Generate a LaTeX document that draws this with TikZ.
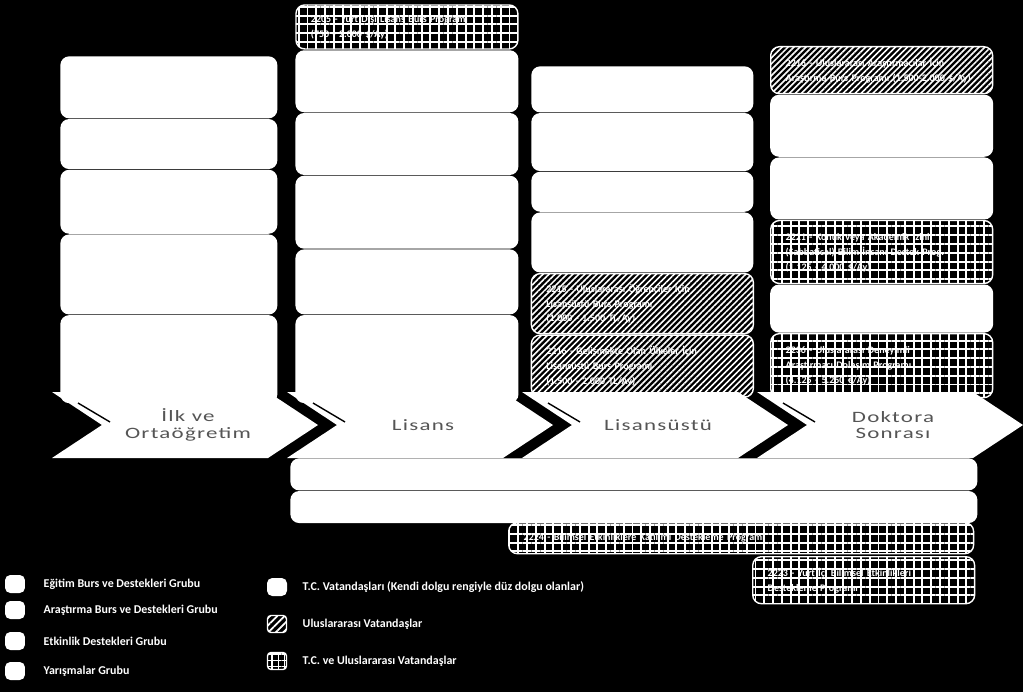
\documentclass[tikz,border=0pt]{standalone}
\usepackage{fontspec}
\setmainfont{Carlito}
\newfontfamily\stagefont{Carlito}[FakeStretch=1.45, LetterSpace=8]
\usetikzlibrary{positioning, patterns.meta}
\definecolor{stagegray}{RGB}{85,85,85}
\newcommand\boxfont{\bfseries\fontsize{5.7}{8.5}\selectfont}
\newcommand\legfont{\bfseries\fontsize{6.8}{8}\selectfont}

\begin{document}
\begin{tikzpicture}[
  x=0.02cm, y=-0.02cm,
  bw/.style={minimum width=#1*0.02cm},
  bh/.style={minimum height=#1*0.02cm},
  wbox/.style={rectangle, rounded corners=5pt, fill=white, inner sep=0pt},
  tbox/.style={rectangle, rounded corners=5pt, draw=white, line width=0.8pt,
    inner xsep=0.3cm, inner ysep=0pt, text width=3.84cm, align=left, text=white, font=\boxfont},
  hbox/.style={tbox, pattern={Lines[angle=45, distance=2.4pt, line width=0.9pt]}, pattern color=white},
  gbox/.style={tbox, pattern={Hatch[distance=5pt, line width=1.1pt]}, pattern color=white},
  stage/.style={align=center, text=stagegray, font=\stagefont\fontsize{9}{9.5}\selectfont},
  legsq/.style={rectangle, rounded corners=3pt, fill=white, minimum width=0.4cm, minimum height=0.36cm, inner sep=0pt},
  legicon/.style={rectangle, rounded corners=2pt, draw=white, line width=0.8pt, minimum width=0.38cm, minimum height=0.34cm, inner sep=0pt},
  legtxt/.style={inner sep=0pt, text=white, font=\legfont}
]
% Background
\useasboundingbox (0,0) rectangle (1023,692);
\fill[black] (0,0) rectangle (1023,692);

% Ilk ve Ortaogretim column
\node[wbox, bw=217, bh=62, anchor=north west] (c1a) at (60,56) {};
\node[wbox, bw=217, bh=50, below=0pt of c1a] (c1b) {};
\node[wbox, bw=217, bh=64, below=0pt of c1b] (c1c) {};
\node[wbox, bw=217, bh=80, below=0pt of c1c] (c1d) {};
\node[wbox, bw=217, bh=88, below=0pt of c1d] (c1e) {};

% Lisans column
\node[gbox, bh=44, anchor=north west] (c2a) at (295,4) {2205 - Yurt Dışı Lisans Burs Programı\\(750 - 2.000 \$/Ay)};
\node[wbox, bw=223, bh=62, below=0pt of c2a] (c2b) {};
\node[wbox, bw=223, bh=62, below=0pt of c2b] (c2c) {};
\node[wbox, bw=223, bh=73, below=0pt of c2c] (c2d) {};
\node[wbox, bw=223, bh=65, below=0pt of c2d] (c2e) {};
\node[wbox, bw=223, bh=88, below=0pt of c2e] (c2f) {};

% Lisansustu column
\node[wbox, bw=222, bh=46, anchor=north west] (c3a) at (531,66) {};
\node[wbox, bw=222, bh=58, below=0pt of c3a] (c3b) {};
\node[wbox, bw=222, bh=40, below=0pt of c3b] (c3c) {};
\node[wbox, bw=222, bh=60, below=0pt of c3c] (c3d) {};
\node[hbox, bh=60, below=0pt of c3d] (c3e) {2215 - Uluslararası Öğrenciler İçin\\Lisansüstü Burs Programı\\(1.000 - 1.500 TL/Ay)};
\node[hbox, bh=62, below=0pt of c3e] (c3f) {2216 - Gelişmekte Olan Ülkeler İçin\\Lisansüstü Burs Programı\\(1.500 - 2.000 TL/Ay)};

% Doktora Sonrasi column
\node[hbox, bh=47, anchor=north west] (c4a) at (770,46) {2216 - Uluslararası Araştırmacılar İçin\\Araştırma Burs Programı (1.500-2.000 \$/Ay)};
\node[wbox, bw=223, bh=62, below=0pt of c4a] (c4b) {};
\node[wbox, bw=223, bh=62, below=0pt of c4b] (c4c) {};
\node[gbox, bh=63, below=0pt of c4c] (c4d) {2221 - Konuk veya Akademik İzinli\\(Sabbatical) Bilim İnsanı Destek Prog.\\(1.125 - 4.000 \$/Ay)};
\node[wbox, bw=223, bh=48, below=0pt of c4d] (c4e) {};
\node[gbox, bh=64, below=0pt of c4e] (c4f) {2236 - Uluslararası Deneyimli\\Araştırmacı Dolaşım Programı\\(4.125 - 5.250 €/Ay)};

% Bars across the stages
\node[wbox, bw=687, bh=32, anchor=north west] (bar1) at (290,458) {};
\node[wbox, bw=687, bh=32, below=0pt of bar1] (bar2) {};
\node[gbox, text width=8.7cm, bh=31, anchor=north west] (bar3) at (508,522) {2224 - Bilimsel Etkinliklere Katılımı Destekleme Programı};
\node[gbox, bh=47, anchor=north west] (bar4) at (752,556) {2223 - Yurt İçi Bilimsel Etkinlikleri\\Destekleme Programı};

% Stage chevrons
\foreach \x/\nm/\txt in {52/st1/{İlk ve\\Ortaöğretim}, 287/st2/Lisans, 522/st3/Lisansüstü, 757/st4/{Doktora\\Sonrası}} {
  \fill[white] (\x,392) -- ++(216,0) -- ++(50,33) -- ++(-50,33) -- ++(-216,0) -- ++(50,-33) -- cycle;
  \draw[line width=0.8pt] (\x+26,403) -- (\x+58,422);
  \node[stage] (\nm) at (\x+136,425) {\txt};
}

% Legend
\node[legsq] (lg1) at (15,584) {};
\node[legtxt, right=0.36cm of lg1] (lt1) {Eğitim Burs ve Destekleri Grubu};
\node[legsq] (lg2) at (15,610) {};
\node[legtxt, right=0.36cm of lg2] (lt2) {Araştırma Burs ve Destekleri Grubu};
\node[legsq] (lg3) at (15,641) {};
\node[legtxt, right=0.36cm of lg3] (lt3) {Etkinlik Destekleri Grubu};
\node[legsq] (lg4) at (15,671) {};
\node[legtxt, right=0.36cm of lg4] (lt4) {Yarışmalar Grubu};

\node[legsq] (lg5) at (277,587) {};
\node[legtxt, right=0.3cm of lg5] (lt5) {T.C. Vatandaşları (Kendi dolgu rengiyle düz dolgu olanlar)};
\node[legicon, pattern={Lines[angle=45, distance=3pt, line width=1pt]}, pattern color=white] (lg6) at (277,624) {};
\node[legtxt, right=0.3cm of lg6] (lt6) {Uluslararası Vatandaşlar};
\node[legicon, pattern={Hatch[distance=3.6pt, line width=0.9pt]}, pattern color=white] (lg7) at (277,661) {};
\node[legtxt, right=0.3cm of lg7] (lt7) {T.C. ve Uluslararası Vatandaşlar};
\end{tikzpicture}
\end{document}
